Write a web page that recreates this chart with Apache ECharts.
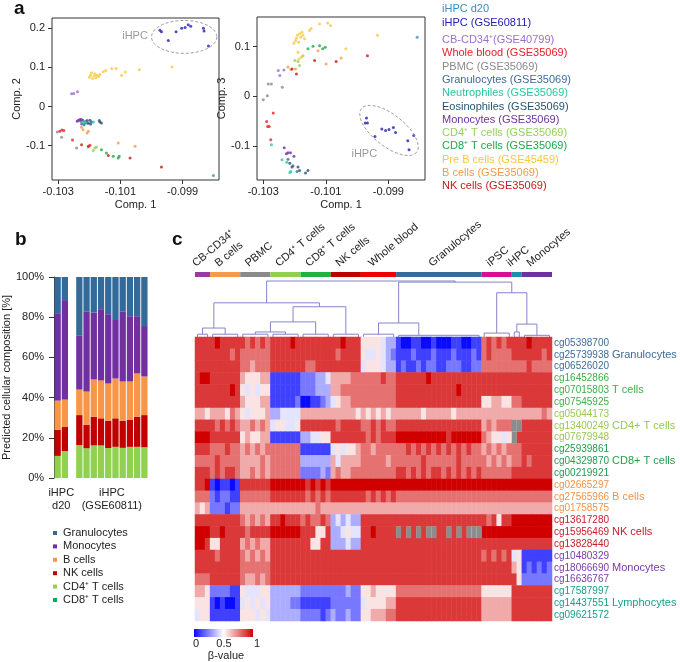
<!DOCTYPE html>
<html>
<head>
<meta charset="utf-8">
<title>Figure</title>
<script src="https://cdn.jsdelivr.net/npm/echarts@6.0.0/dist/echarts.min.js"></script>
<style>
html,body{margin:0;padding:0;background:#ffffff;}
#chart{width:680px;height:662px;}
</style>
</head>
<body>
<div id="chart"></div>
<script>
const FONT = '"Liberation Sans", Arial, Helvetica, sans-serif';

/* ================= panel a : PCA scores ================= */
const pcaGroups = ['iHPC d20','iHPC (GSE60811)','CB-CD34\u207A(GSE40799)','Whole blood (GSE35069)','PBMC (GSE35069)',
  'Granulocytes (GSE35069)','Neutrophiles (GSE35069)','Eosinophiles (GSE35069)','Monocytes (GSE35069)',
  'CD4\u207A T cells (GSE35069)','CD8\u207A T cells (GSE35069)','Pre B cells (GSE45459)','B cells (GSE35069)','NK cells (GSE35069)'];
const pcaColors = ['#3a8ec0','#2020b0','#9b6fd0','#e8202a','#8a8a8a','#3d6b9e','#2ac7a0','#27546f','#7032a0',
  '#96d05a','#1ea84a','#f5c842','#f49a4a','#c81818'];
const xTicks = [-0.103, -0.101, -0.099];
const yTicks12 = [0.2, 0.1, 0, -0.1];
const yTicks13 = [0.1, 0, -0.1];

// Comp.1 vs Comp.2
const c12_iHPCd20 = [[-0.09801,-0.176]];
const c12_iHPC = [[-0.09973,0.195],[-0.09968,0.191],[-0.09946,0.169],[-0.09921,0.191],[-0.09903,0.200],[-0.09892,0.202],[-0.09882,0.209],[-0.09874,0.205],[-0.09833,0.200],[-0.09831,0.193],[-0.09817,0.155]];
const c12_CB = [[-0.10257,0.0325],[-0.10250,0.0333],[-0.10238,0.0376]];
const c12_WB = [[-0.10295,-0.0632],[-0.10288,-0.0598],[-0.10282,-0.0615],[-0.10254,-0.0855],[-0.10198,-0.0991]];
const c12_PBMC = [[-0.10303,-0.0650],[-0.10289,-0.0786],[-0.10241,-0.1060]];
const c12_Gran = [[-0.10227,-0.0376],[-0.10220,-0.0359],[-0.10214,-0.0419],[-0.10225,-0.0444],[-0.10217,-0.0462],[-0.10193,-0.0393]];
const c12_Neut = [[-0.10222,-0.0393],[-0.10211,-0.0376],[-0.10207,-0.0427],[-0.10187,-0.0393],[-0.10214,-0.0393]];
const c12_Eos = [[-0.10203,-0.0427],[-0.10198,-0.0350],[-0.10166,-0.0393],[-0.10161,-0.0419],[-0.10168,-0.0359],[-0.10196,-0.0444]];
const c12_Mono = [[-0.10239,-0.0376],[-0.10230,-0.0333],[-0.10207,-0.0359],[-0.10235,-0.0350],[-0.10225,-0.0333]];
const c12_CD4 = [[-0.10203,-0.1034],[-0.10182,-0.1060],[-0.10177,-0.1034],[-0.10187,-0.1120]];
const c12_CD8 = [[-0.10161,-0.1103],[-0.10145,-0.1188],[-0.10123,-0.1273],[-0.10107,-0.1316],[-0.10104,-0.1273]];
const c12_PreB = [[-0.10200,0.0752],[-0.10196,0.0803],[-0.10193,0.0863],[-0.10190,0.0718],[-0.10185,0.0778],[-0.10182,0.0838],[-0.10179,0.0735],[-0.10175,0.0803],[-0.10170,0.0769],[-0.10166,0.0821],[-0.10155,0.0889],[-0.10147,0.0923],[-0.10128,0.0974],[-0.10114,0.0974],[-0.10096,0.0803],[-0.10084,0.0880],[-0.10039,0.0940],[-0.09934,0.1009]];
const c12_B = [[-0.10225,-0.0530],[-0.10220,-0.0590],[-0.10203,-0.0632],[-0.10207,-0.0675],[-0.10107,-0.0932],[-0.10053,-0.1017]];
const c12_NK = [[-0.10225,-0.0974],[-0.10203,-0.1017],[-0.10139,-0.1248],[-0.10069,-0.1316],[-0.09968,-0.1547]];

// Comp.1 vs Comp.3
const c13_iHPCd20 = [[-0.09808,0.119]];
const c13_iHPC = [[-0.09970,-0.044],[-0.09967,-0.054],[-0.09974,-0.054],[-0.09943,-0.081],[-0.09921,-0.066],[-0.09909,-0.069],[-0.09898,-0.067],[-0.09884,-0.063],[-0.09877,-0.073],[-0.09838,-0.090],[-0.09834,-0.108],[-0.09819,-0.079]];
const c13_CB = [[-0.10252,0.052],[-0.10234,0.053],[-0.10247,0.042]];
const c13_WB = [[-0.10268,-0.034],[-0.10289,-0.051],[-0.10286,-0.061],[-0.10281,-0.061],[-0.10276,-0.088]];
const c13_PBMC = [[-0.10284,0.025],[-0.10274,0.025],[-0.10239,0.018],[-0.10300,-0.007],[-0.10287,0.001]];
const c13_Gran = [[-0.10221,-0.127],[-0.10205,-0.140],[-0.10192,-0.152]];
const c13_Neut = [[-0.10240,-0.128],[-0.10225,-0.133],[-0.10212,-0.152],[-0.10215,-0.154],[-0.10274,-0.098]];
const c13_Eos = [[-0.10215,-0.135],[-0.10208,-0.143],[-0.10189,-0.143],[-0.10184,-0.150],[-0.10165,-0.155],[-0.10157,-0.150]];
const c13_Mono = [[-0.10233,-0.104],[-0.10226,-0.116],[-0.10221,-0.114],[-0.10213,-0.114],[-0.10202,-0.121]];
const c13_CD4 = [[-0.10199,0.072],[-0.10189,0.070],[-0.10173,0.082],[-0.10184,0.062]];
const c13_CD8 = [[-0.10157,0.096],[-0.10141,0.101],[-0.10120,0.102],[-0.10110,0.096],[-0.10102,0.099]];
const c13_PreB = [[-0.10202,0.107],[-0.10197,0.112],[-0.10194,0.117],[-0.10191,0.123],[-0.10187,0.109],[-0.10184,0.126],[-0.10180,0.119],[-0.10176,0.129],[-0.10173,0.123],[-0.10168,0.116],[-0.10152,0.133],[-0.10147,0.137],[-0.10120,0.146],[-0.10094,0.148],[-0.10085,0.143],[-0.10189,0.089],[-0.10186,0.075],[-0.10178,0.079],[-0.10036,0.096],[-0.09935,0.123]];
const c13_B = [[-0.10221,0.059],[-0.10212,0.054],[-0.10197,0.055],[-0.10125,0.092],[-0.10099,0.065],[-0.10051,0.077]];
const c13_NK = [[-0.10208,0.055],[-0.10194,0.045],[-0.10136,0.072],[-0.10067,0.070],[-0.09967,0.082]];

const comp12 = [c12_iHPCd20,c12_iHPC,c12_CB,c12_WB,c12_PBMC,c12_Gran,c12_Neut,c12_Eos,c12_Mono,c12_CD4,c12_CD8,c12_PreB,c12_B,c12_NK];
const comp13 = [c13_iHPCd20,c13_iHPC,c13_CB,c13_WB,c13_PBMC,c13_Gran,c13_Neut,c13_Eos,c13_Mono,c13_CD4,c13_CD8,c13_PreB,c13_B,c13_NK];

// iHPC ellipse annotations (data units)
const iHPCellipse12 = [-0.09895, 0.178, 0.00105, 0.042];          // centre x, centre y, half-width, half-height
const iHPCellipse13 = [-0.09898, -0.069, -0.09810, -0.113, 0.45];  // centre, end of long axis, short/long ratio
const iHPClabel12 = [-0.10053, 0.180];
const iHPClabel13 = [-0.09977, -0.1165];

/* ================= panel b : predicted composition ================= */
const barSamples = ['d20-1','d20-2','','GSE60811-1','GSE60811-2','GSE60811-3','GSE60811-4','GSE60811-5','GSE60811-6','GSE60811-7','GSE60811-8','GSE60811-9','GSE60811-10'];
const compNames = ['Granulocytes','Monocytes','B cells','NK cells','CD4\u207A T cells','CD8\u207A T cells'];
const compColors = ['#336a99','#7030a0','#f79646','#c00000','#92d050','#00b050'];
const shareGran = [18, 11.5, '-', 29, 17.3, 17.7, 16, 18.5, 21.4, 17.3, 19.5, 19.5, 24.4];
const shareMono = [43.5, 49.5, '-', 27, 39.7, 33.3, 35.5, 34.5, 29.1, 34.7, 32.5, 28.5, 25.1];
const shareB    = [14.5, 13.6, '-', 12.7, 16.6, 18.5, 18.8, 18.6, 19.8, 19.6, 19, 21.5, 19.2];
const shareNK   = [13, 12, '-', 14.9, 11.6, 14.3, 13.5, 13.5, 14.2, 13.4, 13.5, 15, 16];
const shareCD4  = [11, 13.4, '-', 16.4, 14.8, 16.2, 16.2, 14.9, 15.5, 15, 15.5, 15.5, 15.3];
const shareCD8  = [0, 0, '-', 0, 0, 0, 0, 0, 0, 0, 0, 0, 0];

/* ================= panel c : methylation heatmap ================= */
const colGroups = ['CB-CD34\u207A','B cells','PBMC','CD4\u207A T cells','CD8\u207A T cells','NK cells','Whole blood','Granulocytes','iPSC','iHPC','Monocytes'];
const colCounts = [3, 6, 6, 6, 6, 6, 7, 17, 6, 2, 6];
const colGroupColors = ['#9a3aa0','#f59a4a','#8a8a8a','#8fd14f','#1fb04a','#c00000','#f00000','#3a6a9a','#d6108f','#1f8fa8','#7030a0'];
const cpgIds = ['cg05398700','cg25739938','cg06526020','cg16452866','cg07015803','cg07545925','cg05044173','cg13400249','cg07679948',
  'cg25939861','cg04329870','cg00219921','cg02665297','cg27565966','cg01758575','cg13617280','cg15956469','cg13828440',
  'cg10480329','cg18066690','cg16636767','cg17587997','cg14437551','cg09621572'];
const rowGroupNames = ['Granulocytes','T cells','CD4+ T cells','CD8+ T cells','B cells','NK cells','Monocytes','Lymphocytes'];
const rowGroupColors = ['#3d6c9c','#3cb04a','#98c94e','#1f9e4a','#f0944a','#c8202a','#7a3aa8','#17a08a'];
// beta-value levels 0..9 (0 = 0, 9 = 1); x = not available
const betaRows = [
 '888 898888 878787 888898 888888 889888 5555433 10011001000110011 787878 88 898888',
 '888 888878 777777 888888 888888 878888 5445432 11121112111211121 787777 88 888878',
 '888 888888 776777 888888 877888 888888 4555433 12112122112221122 777777 77 787777',
 '899 888888 655566 111111 222334 666677 7777877 88888898888888888 888888 88 888888',
 '888 888898 545455 111111 222333 667777 7777777 88888888888898888 888888 88 888888',
 '888 888888 655566 111112 001123 456677 7777777 88888888888888888 556655 77 888888',
 '665 666576 545556 334444 666666 666665 6565656 66666566666566666 666666 66 666676',
 '888 878787 667676 455445 888888 878888 7787877 88888888888888888 676777 xx 888888',
 '999 888888 565566 111111 334455 888888 8787888 99999999998999999 765545 x8 888888',
 '888 777877 676767 777777 111111 454556 7767777 77878787878787877 676767 77 888888',
 '777 787777 666676 777777 333333 646666 7777767 77777877777787777 767676 77 878888',
 '888 787887 667676 777777 222232 676677 7777777 88787878878787878 777777 88 888888',
 '889 101101 888888 999999 989898 999999 9999999 99999999999999999 999999 99 999999',
 '777 212211 777777 888888 878787 888888 8787878 77777777777777777 777777 77 777777',
 '656 222122 666666 666666 666766 666666 6666666 66666666666666666 666666 66 666666',
 '888 888888 767676 889888 787787 343433 8888888 88888888888888888 878588 99 999999',
 '999 889888 878888 999999 888558 334544 8898888 x8x8x8xx88x8x8xxx 999999 99 999999',
 '998 558888 676766 888888 885588 333433 8888888 88888888888888888 888888 88 888888',
 '888 878888 767676 888888 888888 888888 8888888 88888888888888888 787878 45 111111',
 '888 888888 777777 888888 888888 888888 8888888 88888888888888888 888888 65 121212',
 '777 888888 766767 888888 888888 888888 8888888 88888888888888888 888888 85 222222',
 '665 222211 544455 333333 222222 222322 5565555 77777777777777777 555555 88 888888',
 '555 101001 454545 333322 111111 222222 4555566 88888888888888888 666666 88 888888',
 '455 111111 555454 333333 222212 322322 5566677 88888888888888888 666666 88 888888'
];
// dendrogram links: [x left, h left child, x right, h right child, merge height] (x in column units)
const dendroLinks = [
  [1, 0.05, 5.5, 0.05, 0.16],
  [11.5, 0.05, 17.5, 0.05, 0.09],
  [14.5, 0.09, 23.5, 0.05, 0.27],
  [19, 0.27, 29.5, 0.05, 0.54],
  [3.25, 0.16, 24.25, 0.54, 0.61],
  [36, 0.05, 44, 0.03, 0.25],
  [63.5, 0.09, 67.5, 0.03, 0.23],
  [59.5, 0.07, 65.5, 0.23, 0.79],
  [40, 0.25, 62.5, 0.79, 0.98],
  [13.75, 0.61, 51.25, 0.98, 1.0]
];
const leafHeights = [0.05, 0.05, 0.05, 0.05, 0.05, 0.05, 0.05, 0.03, 0.07, 0.09, 0.03];

/* ================= build ================= */
const nCols = colCounts.reduce((a, b) => a + b, 0);
const heatData = [];
const naCells = [];
const badRows = [];
betaRows.forEach((s, r) => {
  const t = s.replace(/\s+/g, '');
  if (t.length !== nCols) badRows.push(r + ':' + t.length);
  for (let c = 0; c < t.length; c++) {
    const ch = t[c];
    if (ch === 'x') naCells.push([c, r]);
    else heatData.push([c, r, (+ch) / 9]);
  }
});
const groupSpans = [];
{ let o = 0; colCounts.forEach((n, g) => { groupSpans.push([o - 0.5, o + n - 0.5, g]); o += n; }); }
const dendroData = dendroLinks.map(l => ({coords: [[l[0], l[1]], [l[0], l[4]], [l[2], l[4]], [l[2], l[3]]]}));
{ let o = 0; colCounts.forEach((n, g) => {
  const a = o, b = o + n - 1, h = leafHeights[g];
  dendroData.push({coords: [[a, 0], [a, h], [b, h], [b, 0]]});
  o += n; }); }

const axisTxt = {fontFamily: FONT, fontSize: 11, color: '#222'};

function scatterAxesX(grid) {
  return {gridIndex: grid, type: 'value', min: -0.1032, max: -0.09783, splitLine: {show: false},
    axisLine: {show: false, onZero: false}, axisTick: {show: true, inside: false, length: 4, customValues: xTicks, lineStyle: {color: '#333'}},
    axisLabel: Object.assign({customValues: xTicks, margin: 6, formatter: v => v.toFixed(3)}, axisTxt),
    name: 'Comp. 1', nameLocation: 'middle', nameGap: 19, nameTextStyle: axisTxt};
}
function scatterAxesY(grid, min, max, ticks, name) {
  return {gridIndex: grid, type: 'value', min: min, max: max, splitLine: {show: false},
    axisLine: {show: false, onZero: false}, axisTick: {show: true, length: 4, customValues: ticks, lineStyle: {color: '#333'}},
    axisLabel: Object.assign({customValues: ticks, margin: 7, formatter: v => (Math.abs(v) < 1e-9 ? '0' : String(+v.toFixed(3)))}, axisTxt),
    name: name, nameLocation: 'middle', nameGap: 20, nameTextStyle: axisTxt};
}

const series = [];
comp12.forEach((d, i) => series.push({type: 'scatter', xAxisIndex: 0, yAxisIndex: 0, data: d, symbolSize: 3,
  itemStyle: {color: pcaColors[i]}, silent: true, z: 3}));
comp13.forEach((d, i) => series.push({type: 'scatter', xAxisIndex: 1, yAxisIndex: 1, data: d, symbolSize: 3,
  itemStyle: {color: pcaColors[i]}, silent: true, z: 3}));
const shares = [shareCD4, shareCD8, shareNK, shareB, shareMono, shareGran];
const shareIdx = [4, 5, 3, 2, 1, 0];
shares.forEach((d, k) => series.push({type: 'bar', xAxisIndex: 2, yAxisIndex: 2, stack: 'comp', data: d,
  barCategoryGap: '13%', itemStyle: {color: compColors[shareIdx[k]]}, silent: true}));
series.push({type: 'custom', xAxisIndex: 3, yAxisIndex: 3, data: groupSpans, silent: true, clip: false,
  renderItem: (params, api) => {
    const s = api.value(0), e = api.value(1), gi = api.value(2);
    const p0 = api.coord([s, 1]), p1 = api.coord([e, 0]);
    const cx = api.coord([(s + e) / 2, 1])[0];
    return {type: 'group', children: [
      {type: 'rect', shape: {x: p0[0], y: p0[1], width: p1[0] - p0[0], height: p1[1] - p0[1]}, style: {fill: colGroupColors[gi]}},
      {type: 'text', x: cx - 5, y: p0[1] - 3, rotation: 40 * Math.PI / 180,
        style: {text: colGroups[gi], fill: '#222', font: '11px ' + FONT, align: 'left', verticalAlign: 'bottom',
          textAlign: 'left', textVerticalAlign: 'bottom'}}
    ]};
  }});
series.push({type: 'lines', coordinateSystem: 'cartesian2d', xAxisIndex: 4, yAxisIndex: 4, polyline: true, silent: true,
  lineStyle: {color: '#8585c8', width: 1, opacity: 1}, data: dendroData});
const heatIndex = series.length;
series.push({type: 'heatmap', xAxisIndex: 5, yAxisIndex: 5, data: heatData, silent: true, progressive: 0});
series.push({type: 'custom', xAxisIndex: 5, yAxisIndex: 5, data: naCells, silent: true,
  renderItem: (params, api) => {
    const p = api.coord([api.value(0), api.value(1)]);
    const sz = api.size([1, 1]);
    return {type: 'rect', shape: {x: p[0] - sz[0] / 2, y: p[1] - sz[1] / 2, width: sz[0], height: sz[1]},
      style: {fill: '#8c8c8c'}};
  }});

const option = {
  animation: false,
  backgroundColor: '#ffffff',
  textStyle: {fontFamily: FONT},
  grid: [
    {left: 52, top: 18, width: 167, height: 162, show: true, borderColor: '#333', borderWidth: 1},
    {left: 257, top: 17, width: 168, height: 163, show: true, borderColor: '#333', borderWidth: 1},
    {left: 46, top: 277, width: 102, height: 201},
    {left: 195, top: 272, width: 357, height: 5},
    {left: 195, top: 279, width: 357, height: 58},
    {left: 195, top: 337, width: 357, height: 284}
  ],
  xAxis: [
    scatterAxesX(0),
    scatterAxesX(1),
    {gridIndex: 2, type: 'category', data: barSamples, axisLine: {show: false}, axisTick: {show: false}, axisLabel: {show: false}},
    {gridIndex: 3, type: 'value', min: -0.5, max: nCols - 0.5, show: false},
    {gridIndex: 4, type: 'value', min: -0.5, max: nCols - 0.5, show: false},
    {gridIndex: 5, type: 'category', data: Array.from({length: nCols}, (_, i) => i), show: false}
  ],
  yAxis: [
    scatterAxesY(0, -0.1877, 0.2263, yTicks12, 'Comp. 2'),
    scatterAxesY(1, -0.169, 0.160, yTicks13, 'Comp. 3'),
    {gridIndex: 2, type: 'value', min: 0, max: 100, interval: 20, splitLine: {show: false},
      axisLine: {show: true, lineStyle: {color: '#333'}}, axisTick: {show: true, length: 5, lineStyle: {color: '#333'}},
      axisLabel: Object.assign({formatter: '{value}%', margin: 10}, axisTxt, {fontSize: 11}),
      name: 'Predicted cellular composition [%]', nameLocation: 'middle', nameGap: 28, nameTextStyle: axisTxt},
    {gridIndex: 3, type: 'value', min: 0, max: 1, show: false},
    {gridIndex: 4, type: 'value', min: 0, max: 58 / 56, show: false},
    {gridIndex: 5, type: 'category', data: cpgIds, inverse: true, position: 'right',
      axisLine: {show: false}, axisTick: {show: false}, splitLine: {show: false},
      axisLabel: {margin: 2, fontSize: 10, fontFamily: FONT, interval: 0, color: (v, i) => rowGroupColors[Math.floor(i / 3)]}},
    {gridIndex: 5, type: 'category', data: cpgIds, inverse: true, position: 'right', offset: 58,
      axisLine: {show: false}, axisTick: {show: false}, splitLine: {show: false},
      axisLabel: {margin: 2, fontSize: 11, fontFamily: FONT, interval: 0,
        formatter: (v, i) => (i % 3 === 1 ? rowGroupNames[Math.floor(i / 3)] : ''),
        color: (v, i) => rowGroupColors[Math.floor(i / 3)]}}
  ],
  visualMap: [{type: 'continuous', show: false, seriesIndex: heatIndex, min: 0, max: 1,
    inRange: {color: ['#0a0aff', '#ffffff', '#d10000']}}],
  series: series
};

const chart = echarts.init(document.getElementById('chart'), null, {renderer: 'canvas', width: 680, height: 662});
chart.setOption(option);

function txt(text, x, y, o) {
  o = o || {};
  return {type: 'text', x: x, y: y, rotation: o.rot || 0, z: 100, silent: true,
    style: {text: text, fill: o.color || '#222', font: (o.bold ? 'bold ' : '') + (o.size || 11) + 'px ' + FONT,
      textAlign: o.align || 'left', textVerticalAlign: o.valign || 'middle',
      align: o.align || 'left', verticalAlign: o.valign || 'middle'}};
}
function ellipsePoly(cx, cy, a, b, ang) {
  const pts = [];
  for (let k = 0; k <= 90; k++) {
    const t = k / 90 * 2 * Math.PI, ex = a * Math.cos(t), ey = b * Math.sin(t);
    pts.push([cx + ex * Math.cos(ang) - ey * Math.sin(ang), cy + ex * Math.sin(ang) + ey * Math.cos(ang)]);
  }
  return {type: 'polyline', z: 90, silent: true, shape: {points: pts},
    style: {stroke: '#9a9a9a', fill: null, lineWidth: 1, lineDash: [3, 2]}};
}

const g = [];
// panel letters
g.push(txt('a', 14, 9, {bold: true, size: 19, color: '#111'}));
g.push(txt('b', 15, 240, {bold: true, size: 19, color: '#111'}));
g.push(txt('c', 172, 240, {bold: true, size: 19, color: '#111'}));
// panel a legend
pcaGroups.forEach((nm, i) => {
  const y = i < 2 ? 9 + 14 * i : 40 + 13.3 * (i - 2);
  g.push(txt(nm, 442, y, {color: pcaColors[i], size: 11}));
});
// ellipses
{
  const e = iHPCellipse12;
  const c = chart.convertToPixel({gridIndex: 0}, [e[0], e[1]]);
  const q = chart.convertToPixel({gridIndex: 0}, [e[0] + e[2], e[1] + e[3]]);
  g.push(ellipsePoly(c[0], c[1], Math.abs(q[0] - c[0]), Math.abs(q[1] - c[1]), 0));
  const l = chart.convertToPixel({gridIndex: 0}, iHPClabel12);
  g.push(txt('iHPC', l[0], l[1], {color: '#9a9a9a', align: 'center', size: 11}));
}
{
  const e = iHPCellipse13;
  const c = chart.convertToPixel({gridIndex: 1}, [e[0], e[1]]);
  const q = chart.convertToPixel({gridIndex: 1}, [e[2], e[3]]);
  const a = Math.hypot(q[0] - c[0], q[1] - c[1]);
  const ang = Math.atan2(q[1] - c[1], q[0] - c[0]);
  g.push(ellipsePoly(c[0], c[1], a, a * e[4], ang));
  const l = chart.convertToPixel({gridIndex: 1}, iHPClabel13);
  g.push(txt('iHPC', l[0], l[1], {color: '#9a9a9a', align: 'center', size: 11}));
}
// panel b category labels
{
  const p0 = chart.convertToPixel({xAxisIndex: 2}, 0), p1 = chart.convertToPixel({xAxisIndex: 2}, 1);
  const p3 = chart.convertToPixel({xAxisIndex: 2}, 3), p12 = chart.convertToPixel({xAxisIndex: 2}, 12);
  const xa = (p0 + p1) / 2, xb = (p3 + p12) / 2;
  g.push(txt('iHPC', xa, 493, {align: 'center'}));
  g.push(txt('d20', xa, 506, {align: 'center'}));
  g.push(txt('iHPC', xb, 493, {align: 'center'}));
  g.push(txt('(GSE60811)', xb, 506, {align: 'center'}));
}
// panel b legend
compNames.forEach((nm, i) => {
  const y = 533 + 13.4 * i;
  g.push({type: 'rect', z: 100, silent: true, shape: {x: 53, y: y - 2, width: 4, height: 4}, style: {fill: compColors[i]}});
  g.push(txt(nm, 63, y, {size: 11}));
});
// colour bar
g.push({type: 'rect', z: 100, silent: true, shape: {x: 194, y: 629, width: 59, height: 8},
  style: {fill: new echarts.graphic.LinearGradient(0, 0, 1, 0, [
    {offset: 0, color: '#0a0aff'}, {offset: 0.5, color: '#ffffff'}, {offset: 1, color: '#d10000'}])}});
g.push(txt('0', 196, 644, {align: 'center'}));
g.push(txt('0.5', 224, 644, {align: 'center'}));
g.push(txt('1', 257, 644, {align: 'center'}));
g.push(txt('\u03B2-value', 226, 656, {align: 'center'}));
if (badRows.length) g.push(txt('BAD ROWS ' + badRows.join(','), 200, 650, {color: '#f00'}));

chart.setOption({graphic: g});
</script>
</body>
</html>
